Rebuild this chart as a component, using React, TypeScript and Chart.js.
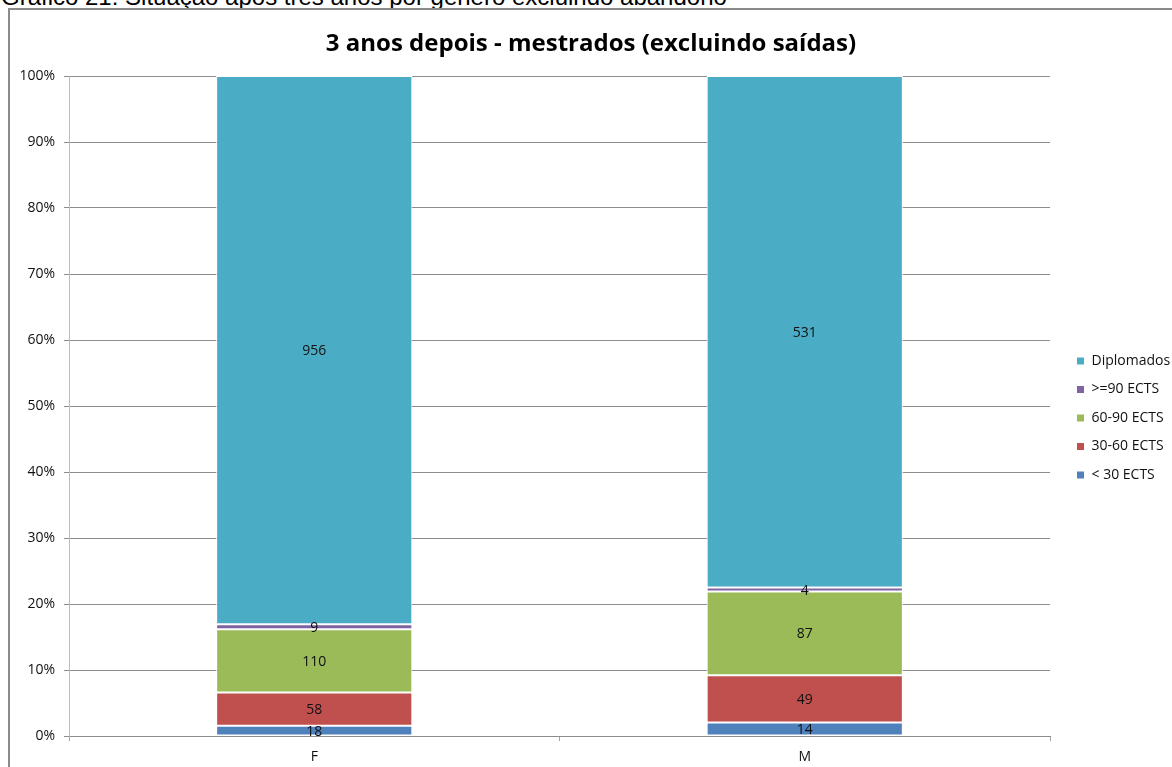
import React, { useEffect, useRef } from "react";
import { Chart, registerables } from "chart.js";

Chart.register(...registerables);

const caption = "Gráfico 21: Situação após três anos por género excluindo abandono";
const chartTitle = "3 anos depois - mestrados (excluindo saídas)";
const categories = ["F", "M"];
const seriesNames = ["< 30 ECTS", "30-60 ECTS", "60-90 ECTS", ">=90 ECTS", "Diplomados"];
const lt30 = [18, 14];
const r30to60 = [58, 49];
const r60to90 = [110, 87];
const ge90 = [9, 4];
const diplomados = [956, 531];
const seriesColors = ["#4F81BD", "#C0504D", "#9BBB59", "#8064A2", "#4BACC6"];
const yTicks = [0, 10, 20, 30, 40, 50, 60, 70, 80, 90, 100];

const FONT = "'Open Sans', 'DejaVu Sans', sans-serif";

const valueLabels = {
  id: "valueLabels",
  afterDatasetsDraw(chart: any) {
    const ctx = chart.ctx;
    ctx.save();
    ctx.font = `14px ${FONT}`;
    ctx.fillStyle = "#111";
    ctx.textAlign = "center";
    ctx.textBaseline = "middle";
    chart.data.datasets.forEach((ds: any, di: number) => {
      const meta = chart.getDatasetMeta(di);
      meta.data.forEach((el: any, i: number) => {
        const raw = ds.raw[i];
        const y = (el.y + el.base) / 2;
        ctx.fillText(String(raw), el.x, y + 1);
      });
    });
    ctx.restore();
  },
};

export default function App() {
  const ref = useRef<HTMLCanvasElement | null>(null);
  useEffect(() => {
    const rawSeries = [lt30, r30to60, r60to90, ge90, diplomados];
    const totals = categories.map((_, i) => rawSeries.reduce((s, a) => s + a[i], 0));
    const datasets = rawSeries.map((arr, k) => ({
      label: seriesNames[k],
      data: arr.map((v, i) => (v / totals[i]) * 100),
      raw: arr,
      backgroundColor: seriesColors[k],
      borderColor: "#ffffff",
      borderWidth: 1,
      borderSkipped: false,
      barPercentage: 0.4,
      categoryPercentage: 1,
    }));
    const chart = new Chart(ref.current as HTMLCanvasElement, {
      type: "bar",
      data: { labels: categories, datasets: datasets as any },
      options: {
        animation: false,
        responsive: false,
        devicePixelRatio: 1,
        layout: { padding: 0 },
        font: { family: FONT },
        plugins: {
          title: {
            display: true,
            text: chartTitle,
            color: "#000",
            font: { family: FONT, size: 24, weight: "bold", lineHeight: 1.2 },
            padding: { top: 19.6, bottom: 17.6 },
          },
          legend: {
            position: "right",
            reverse: true,
            maxWidth: 110,
            labels: {
              boxWidth: 8,
              boxHeight: 8,
              padding: 14.5,
              color: "#111",
              font: { family: FONT, size: 14 },
            },
          },
          tooltip: { enabled: false },
        },
        scales: {
          x: {
            stacked: true,
            offset: true,
            grid: {
              display: true,
              drawOnChartArea: false,
              drawTicks: true,
              tickLength: 5,
              color: "#a6a6a6",
              offset: true,
            },
            border: { display: true, color: "#8c8c8c", width: 1 },
            ticks: { color: "#111", padding: 7.3, font: { family: FONT, size: 14 } },
            afterFit: (s: any) => {
              s.height = 90;
            },
          },
          y: {
            stacked: true,
            min: 0,
            max: 100,
            afterBuildTicks: (s: any) => {
              s.ticks = yTicks.map((v) => ({ value: v }));
            },
            grid: {
              color: "#8c8c8c",
              lineWidth: 1,
              drawTicks: true,
              tickLength: 5,
            },
            border: { display: true, color: "#bdbdbd", width: 1 },
            ticks: {
              color: "#111",
              padding: 9,
              font: { family: FONT, size: 14 },
              callback: (v: any) => `${v}%`,
            },
            afterFit: (s: any) => {
              s.width = 59;
            },
          },
          spacer: {
            type: "linear",
            position: "right",
            display: true,
            grid: { display: false },
            border: { display: false },
            ticks: { display: false },
            afterFit: (s: any) => {
              s.width = 12;
            },
          },
        },
      } as any,
      plugins: [valueLabels],
    });
    return () => chart.destroy();
  }, []);

  return (
    <div
      style={{
        position: "absolute",
        left: 0,
        top: 0,
        width: 1172,
        height: 767,
        overflow: "hidden",
        background: "#fff",
      }}
    >
      <div
        style={{
          position: "absolute",
          left: 1,
          top: -15,
          fontFamily: "'Liberation Sans', Arial, sans-serif",
          fontSize: 24,
          lineHeight: "24px",
          color: "#000",
          whiteSpace: "nowrap",
        }}
      >
        {caption}
      </div>
      <div
        style={{
          position: "absolute",
          left: 8,
          top: 8,
          width: 1300,
          height: 900,
          border: "2px solid #8a8a8a",
          boxSizing: "border-box",
          background: "#fff",
        }}
      >
        <canvas ref={ref} width={1162} height={816} style={{ display: "block", width: 1162, height: 816 }} />
      </div>
    </div>
  );
}
